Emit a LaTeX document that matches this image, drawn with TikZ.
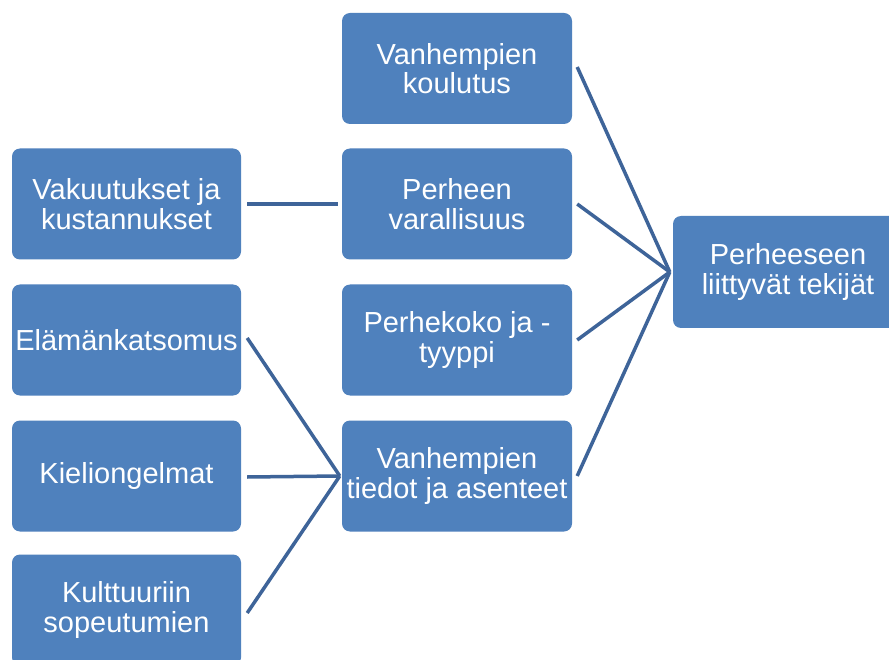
\documentclass[tikz,border=0pt]{standalone}
\usepackage{fontspec}
\setmainfont{Liberation Sans}
\definecolor{boxblue}{RGB}{79,129,189}
\definecolor{lineblue}{RGB}{62,100,153}
\begin{document}
\begin{tikzpicture}[x=1pt,y=-1pt,
  box/.style={draw=none, fill=boxblue, rounded corners=8pt, minimum width=230pt, minimum height=111pt,
    text=white, align=center, inner sep=0pt, font=\fontsize{29}{29.5}\selectfont},
  conn/.style={draw=lineblue, line width=3.5pt}]
\clip (0,0) rectangle (889,660);
\fill[white] (0,0) rectangle (889,660);
% middle column
\node[box] (m1) at (457,68.5) {Vanhempien\\koulutus};
\node[box] (m2) at (457,204) {Perheen\\varallisuus};
\node[box] (m3) at (457,340) {Perhekoko ja -\\tyyppi};
\node[box] (m4) at (457,476) {Vanhempien\\tiedot ja asenteet};
% left column
\node[box, minimum width=229pt] (l1) at (126.5,204) {Vakuutukset ja\\kustannukset};
\node[box, minimum width=229pt] (l2) at (126.5,340) {Elämänkatsomus};
\node[box, minimum width=229pt] (l3) at (126.5,476) {Kieliongelmat};
\node[box, minimum width=229pt] (l4) at (126.5,610) {Kulttuuriin\\sopeutumien};
% right
\node[box, minimum height=112pt] (r) at (788,272) {Perheeseen\\liittyvät tekijät};
% connectors
\coordinate (rj) at ([xshift=-3pt]r.west);
\coordinate (mj) at ([xshift=-2pt]m4.west);
\draw[conn] ([xshift=5pt,yshift=1.5pt]m1.east) -- (rj);
\draw[conn] ([xshift=5pt]m2.east) -- (rj);
\draw[conn] ([xshift=5pt]m3.east) -- (rj);
\draw[conn] ([xshift=5pt]m4.east) -- (rj);
\draw[conn] ([xshift=6pt]l1.east) -- ([xshift=-4pt]m2.west);
\draw[conn] ([xshift=6pt,yshift=2pt]l2.east) -- (mj);
\draw[conn] ([xshift=6pt,yshift=-1pt]l3.east) -- (mj);
\draw[conn] ([xshift=6pt,yshift=-3pt]l4.east) -- (mj);
\end{tikzpicture}
\end{document}
